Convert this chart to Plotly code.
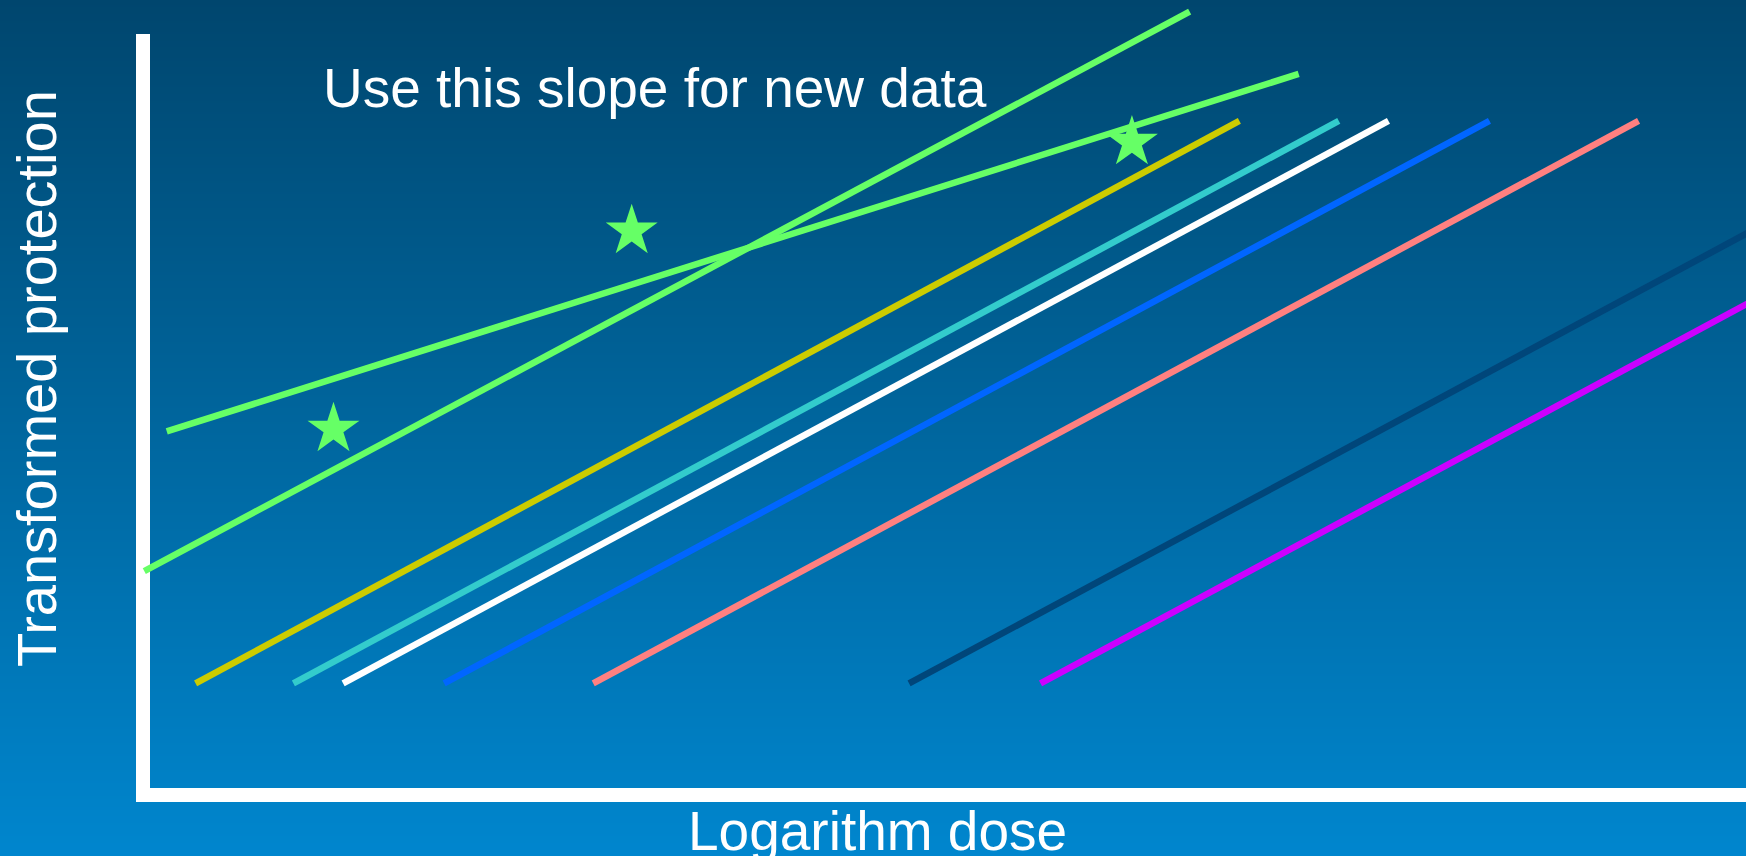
import plotly.graph_objects as go

# ---------------- data (arbitrary units) ----------------
# green line that passes through the "new data" region (steep, common slope)
steep_x = [0.01, 6.53]
steep_y = [2.95, 10.32]

# green line fitted to the new data (shallow)
shallow_x = [0.15, 7.21]
shallow_y = [4.79, 9.50]

# parallel reference lines
line_colors = ["#CCCC00", "#33CCCC", "#FFFFFF", "#0066FF", "#FF8080", "#00467A", "#CC00FF"]
line_x_start = [0.33, 0.94, 1.25, 1.88, 2.81, 4.78, 5.60]
line_x_end = [6.84, 7.46, 7.77, 8.40, 9.33, 11.31, 12.13]
line_y_start = [1.47, 1.47, 1.47, 1.47, 1.47, 1.47, 1.47]
line_y_end = [8.88, 8.88, 8.88, 8.88, 8.88, 8.88, 8.88]

# new data points (stars)
star_x = [1.19, 3.05, 6.17]
star_y = [4.82, 7.43, 8.60]

# text
title_text = "Use this slope for new data"
x_title = "Logarithm dose"
y_title = "Transformed protection"

# background gradient (bottom -> top)
bg_bottom = "rgb(0,134,206)"
bg_top = "rgb(0,70,110)"

GREEN = "#66FF66"
FONT = "Liberation Sans, Arial, sans-serif"
W, H = 1746, 856
LW = 6.5

fig = go.Figure()

# background gradient on its own full-page axes
fig.add_trace(go.Heatmap(
    x=[0, 1], y=[0, 1], z=[[0, 0], [1, 1]],
    colorscale=[[0, bg_bottom], [1, bg_top]],
    zsmooth="best", showscale=False, hoverinfo="skip",
    xaxis="x", yaxis="y",
))

# placeholder trace so the axis-frame subplot exists
fig.add_trace(go.Scatter(x=[None], y=[None], xaxis="x2", yaxis="y2",
                         mode="lines", showlegend=False, hoverinfo="skip"))

# data lines
fig.add_trace(go.Scatter(x=steep_x, y=steep_y, mode="lines",
                         line=dict(color=GREEN, width=LW),
                         xaxis="x3", yaxis="y3", showlegend=False))
fig.add_trace(go.Scatter(x=shallow_x, y=shallow_y, mode="lines",
                         line=dict(color=GREEN, width=LW),
                         xaxis="x3", yaxis="y3", showlegend=False))
for c, xs, xe, ys, ye in zip(line_colors, line_x_start, line_x_end, line_y_start, line_y_end):
    fig.add_trace(go.Scatter(x=[xs, xe], y=[ys, ye], mode="lines",
                             line=dict(color=c, width=LW),
                             xaxis="x3", yaxis="y3", showlegend=False))

fig.add_trace(go.Scatter(x=star_x, y=star_y, mode="markers",
                         marker=dict(symbol="star", size=39, color=GREEN,
                                     line=dict(width=0)),
                         xaxis="x3", yaxis="y3", showlegend=False))

hidden = dict(visible=False, showgrid=False, zeroline=False, fixedrange=True)

fig.update_layout(
    width=W, height=H,
    margin=dict(l=0, r=0, t=0, b=0, pad=0),
    paper_bgcolor=bg_bottom, plot_bgcolor="rgba(0,0,0,0)",
    showlegend=False,
    xaxis=dict(domain=[0, 1], range=[0, 1], anchor="y", **hidden),
    yaxis=dict(domain=[0, 1], range=[0, 1], anchor="x", **hidden),
    xaxis2=dict(domain=[149.7 / W, 1], range=[0, 1], anchor="y2",
                showline=True, linecolor="white", linewidth=14,
                showgrid=False, zeroline=False, showticklabels=False, ticks=""),
    yaxis2=dict(domain=[1 - 788 / H, 1 - 34.3 / H], range=[0, 1], anchor="x2",
                showline=True, linecolor="white", linewidth=14,
                showgrid=False, zeroline=False, showticklabels=False, ticks=""),
    xaxis3=dict(domain=[0, 1], range=[-0.89, 10], anchor="y3", **hidden),
    yaxis3=dict(domain=[0, 1], range=[-0.804, 10.474], anchor="x3", **hidden),
    annotations=[
        dict(text=title_text, xref="paper", yref="paper",
             x=321 / W, y=1 - 88 / H, xanchor="left", yanchor="middle",
             showarrow=False, font=dict(family=FONT, size=55, color="white")),
        dict(text=x_title, xref="paper", yref="paper",
             x=877 / W, y=1 - 831 / H, xanchor="center", yanchor="middle",
             showarrow=False, font=dict(family=FONT, size=55, color="white")),
        dict(text=y_title, xref="paper", yref="paper", textangle=-90,
             x=36 / W, y=1 - 379 / H, xanchor="center", yanchor="middle",
             showarrow=False, font=dict(family=FONT, size=56, color="white")),
    ],
)

fig.write_html(
    "out.html",
    config={"displayModeBar": False},
    post_script=(
        "document.body.style.margin='0';"
        "document.body.style.padding='0';"
        "document.body.style.overflow='hidden';"
        "document.body.style.background='rgb(0,134,206)';"
    ),
)
